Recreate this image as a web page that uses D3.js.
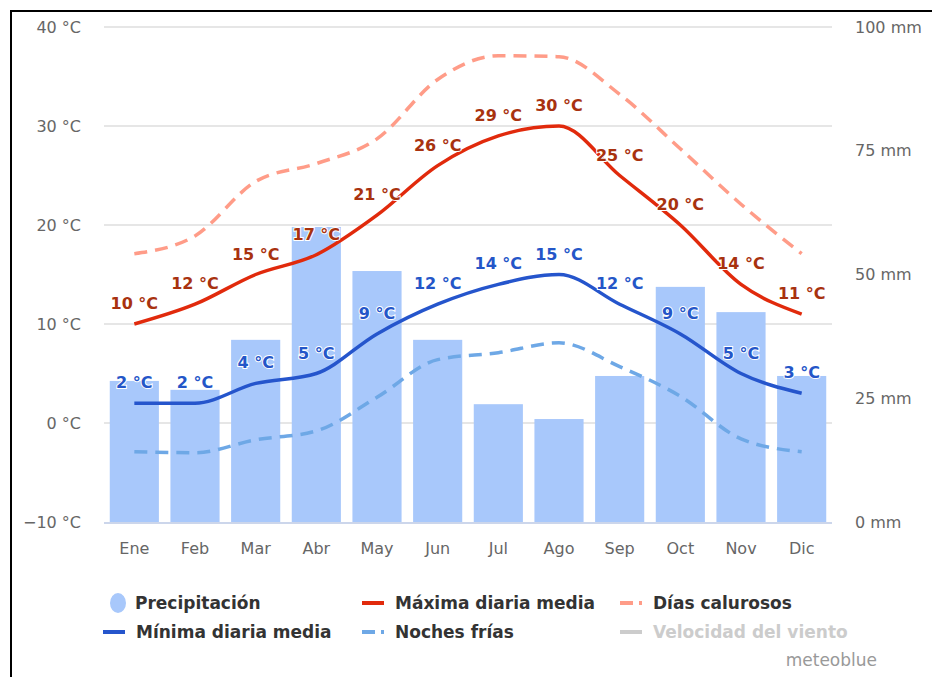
<!DOCTYPE html>
<html>
<head>
<meta charset="utf-8">
<script src="https://cdn.jsdelivr.net/npm/d3@7"></script>
<style>
  body { margin: 0; background: #fff; }
  svg { display: block; font-family: "DejaVu Sans", sans-serif; }
</style>
</head>
<body>
<svg id="chart" width="932" height="677"></svg>
<script>
const months = ["Ene", "Feb", "Mar", "Abr", "May", "Jun", "Jul", "Ago", "Sep", "Oct", "Nov", "Dic"]
const precip = [28.5, 26.7, 36.8, 59.6, 50.7, 36.8, 23.8, 20.8, 29.5, 47.5, 42.4, 29.5]
const tmax = [10, 12, 15, 17, 21, 26, 29, 30, 25, 20, 14, 11]
const tmin = [2, 2, 4, 5, 9, 12, 14, 15, 12, 9, 5, 3]
const hotDays = [17.1, 18.9, 24.4, 26.2, 28.7, 34.7, 37.1, 37, 33.2, 27.7, 22.1, 17.1]
const coldNights = [-2.9, -3, -1.7, -0.8, 2.6, 6.4, 7.1, 8.1, 5.7, 2.7, -1.6, -2.9]
const tempTicks = [-10, 0, 10, 20, 30, 40]
const mmTicks = [0, 25, 50, 75, 100]

const margin = {top: 27, left: 104, right: 832, bottom: 522}
const svg = d3.select("#chart")

// frame (only left and top edges are visible in the crop)
svg.append("rect")
  .attr("x", 11).attr("y", 11)
  .attr("width", 1200).attr("height", 1200)
  .attr("fill", "none").attr("stroke", "#000").attr("stroke-width", 2)

svg.append("clipPath").attr("id", "plotclip")
  .append("rect").attr("x", margin.left).attr("y", 0).attr("width", 724).attr("height", 540)

let x = d3.scaleBand().domain(months).range([margin.left, margin.right]).paddingInner(0.19).paddingOuter(0.095)
let y = d3.scaleLinear().domain([-10, 40]).range([margin.bottom, margin.top])
let yMm = d3.scaleLinear().domain([0, 100]).range([margin.bottom, margin.top])
let cx = m => x(m) + x.bandwidth() / 2

// grid
svg.append("g")
  .selectAll("line")
  .data(tempTicks.slice(1)).enter()
  .append("line")
  .attr("x1", margin.left).attr("x2", margin.right)
  .attr("y1", d => y(d)).attr("y2", d => y(d))
  .attr("stroke", "#e6e6e6").attr("stroke-width", 2)

// left axis
let yAxis = d3.axisLeft(y).tickValues(tempTicks).tickSize(0).tickPadding(0)
svg.append("g")
  .attr("transform", "translate(81,0)")
  .call(yAxis)
  .call(g => g.select(".domain").remove())
  .selectAll("text").attr("font-size", 16).attr("fill", "#666").attr("font-family", "DejaVu Sans")
  .text(d => d < 0 ? `\u2212${-d} °C` : `${d} °C`)

// right axis
let yAxisR = d3.axisRight(yMm).tickValues(mmTicks).tickSize(0).tickPadding(0).tickFormat(d => `${d} mm`)
svg.append("g")
  .attr("transform", "translate(855,0)")
  .call(yAxisR)
  .call(g => g.select(".domain").remove())
  .selectAll("text").attr("font-size", 16).attr("fill", "#666").attr("font-family", "DejaVu Sans")

// bars
svg.append("g")
  .selectAll("rect")
  .data(months).enter()
  .append("rect")
  .attr("x", d => x(d))
  .attr("width", x.bandwidth())
  .attr("y", (d, i) => yMm(precip[i]))
  .attr("height", (d, i) => yMm(0) - yMm(precip[i]))
  .attr("fill", "#a8c8fb")

// x axis
svg.append("line")
  .attr("x1", margin.left).attr("x2", margin.right)
  .attr("y1", margin.bottom + 1).attr("y2", margin.bottom + 1)
  .attr("stroke", "#ccd6eb").attr("stroke-width", 2)

let xAxis = d3.axisBottom(x).tickSize(0).tickPadding(0)
svg.append("g")
  .attr("transform", `translate(0, ${margin.bottom + 32})`)
  .call(xAxis)
  .call(g => g.select(".domain").remove())
  .selectAll("text").attr("font-size", 16).attr("fill", "#666").attr("font-family", "DejaVu Sans")
  .attr("dy", 0)

// lines
let line = vals => d3.line()
  .x((d, i) => cx(months[i]))
  .y(d => y(d))
  .curve(d3.curveMonotoneX)(vals)

let series = [
  {vals: hotDays, stroke: "#ff9c88", dash: "13,8", width: 3.5},
  {vals: coldNights, stroke: "#6ea8e6", dash: "13,8", width: 3.5},
  {vals: tmax, stroke: "#e12a0c", dash: null, width: 3.5},
  {vals: tmin, stroke: "#2555cc", dash: null, width: 3.5}
]
svg.append("g")
  .selectAll("path")
  .data(series).enter()
  .append("path")
  .attr("d", s => line(s.vals))
  .attr("fill", "none")
  .attr("stroke", s => s.stroke)
  .attr("stroke-width", s => s.width)
  .attr("stroke-dasharray", s => s.dash)

// data labels
function labels(vals, color) {
  svg.append("g")
    .attr("clip-path", "url(#plotclip)")
    .selectAll("text")
    .data(vals).enter()
    .append("text")
    .attr("x", (d, i) => cx(months[i]))
    .attr("y", d => y(d) - 15)
    .attr("text-anchor", "middle")
    .attr("font-size", 16).attr("font-weight", "bold")
    .attr("fill", color)
    .attr("stroke", "#fff").attr("stroke-width", 2).attr("paint-order", "stroke")
    .text(d => `${d} °C`)
}
labels(tmax, "#a8320f")
labels(tmin, "#2456c8")

// legend
let legend = svg.append("g").attr("font-size", 17).attr("font-weight", "bold")
let items = [
  {label: "Precipitación", x: 110, y: 603, type: "dot", color: "#a8c8fb", text: "#333"},
  {label: "Máxima diaria media", x: 362, y: 603, type: "line", color: "#e12a0c", text: "#333"},
  {label: "Días calurosos", x: 620, y: 603, type: "dash", color: "#ff9c88", text: "#333"},
  {label: "Mínima diaria media", x: 103, y: 632, type: "line", color: "#2555cc", text: "#333"},
  {label: "Noches frías", x: 362, y: 632, type: "dash", color: "#6ea8e6", text: "#333"},
  {label: "Velocidad del viento", x: 620, y: 632, type: "line", color: "#cccccc", text: "#cccccc"}
]
items.forEach(it => {
  if (it.type == "dot") {
    legend.append("ellipse").attr("cx", it.x + 8).attr("cy", it.y).attr("rx", 8).attr("ry", 10).attr("fill", it.color)
  } else {
    legend.append("line")
      .attr("x1", it.x).attr("x2", it.x + 22)
      .attr("y1", it.y).attr("y2", it.y)
      .attr("stroke", it.color).attr("stroke-width", 4)
      .attr("stroke-dasharray", it.type == "dash" ? "13,6" : null)
  }
  legend.append("text")
    .attr("x", it.type == "dot" ? it.x + 25 : it.x + 33)
    .attr("y", it.y + 6)
    .attr("fill", it.text)
    .text(it.label)
})

svg.append("text")
  .attr("x", 877).attr("y", 666)
  .attr("text-anchor", "end")
  .attr("font-size", 17).attr("fill", "#999")
  .text("meteoblue")
</script>
</body>
</html>
